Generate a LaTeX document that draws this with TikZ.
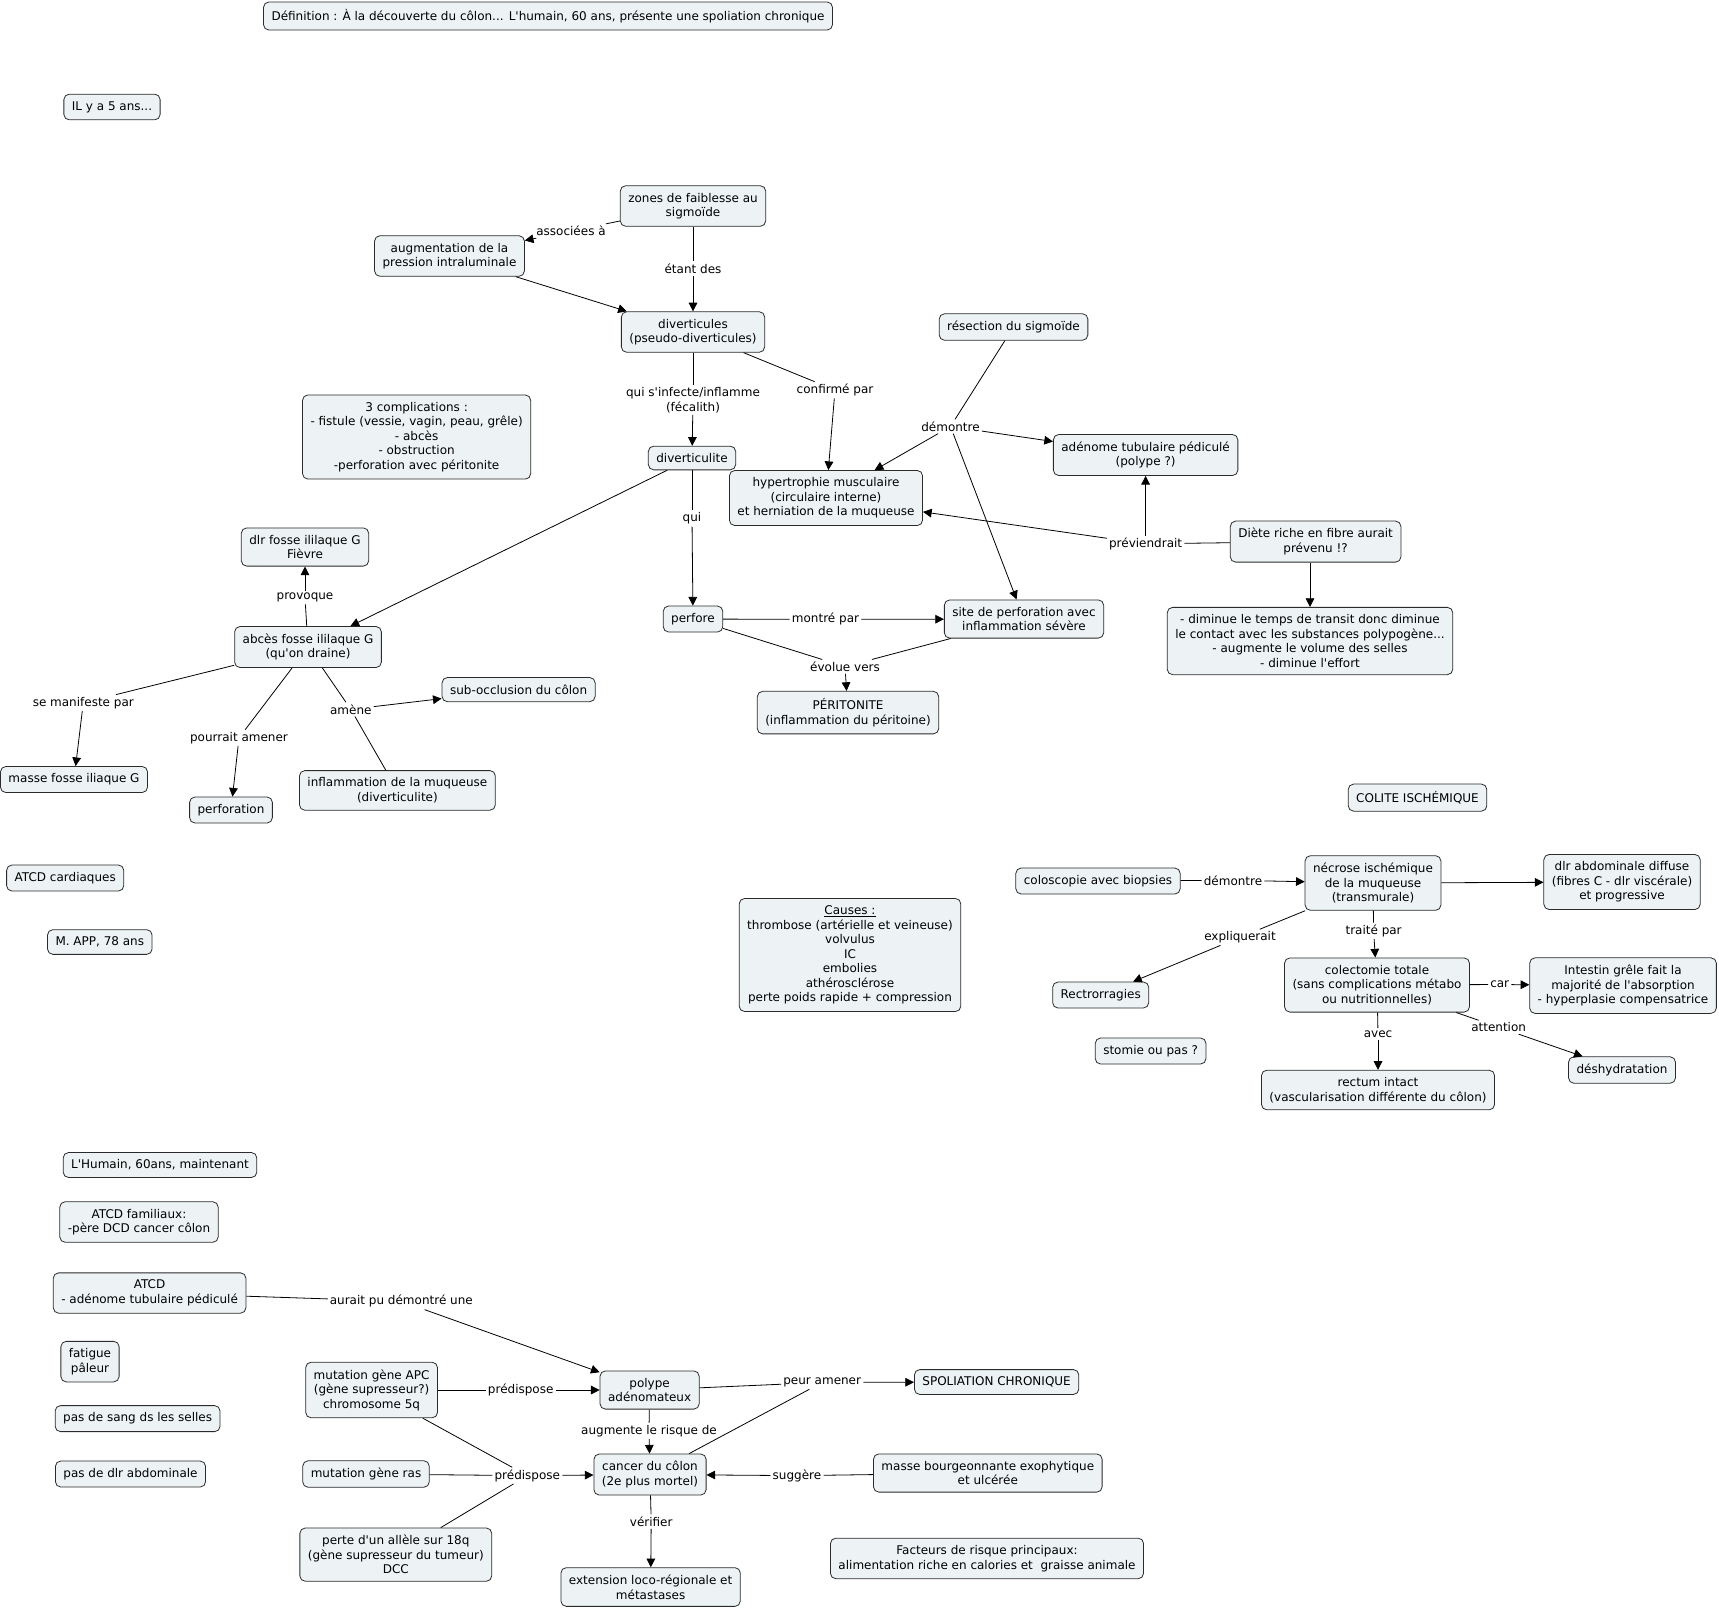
\documentclass[tikz,border=0pt]{standalone}
\usepackage{fontspec}
\newfontfamily\cmapfont{DejaVu Sans}
\usetikzlibrary{arrows.meta}
\definecolor{cmapfill}{HTML}{EDF3F5}
\definecolor{cmapdraw}{HTML}{2B2B2B}

\begin{document}
\begin{tikzpicture}[
    x=0.75pt, y=-0.75pt,
    font=\cmapfont\fontsize{9}{10.9}\selectfont,
    concept/.style={draw=cmapdraw, fill=cmapfill, rounded corners=4pt, align=center,
      inner xsep=6pt, inner ysep=5.4pt, line width=0.6pt},
    phrase/.style={align=center, inner sep=1.5pt},
    link/.style={line width=0.6pt, draw=black},
    arrow/.style={link, -{Triangle[length=6.5pt,width=6.5pt]}}
  ]
    \useasboundingbox (0,0) rectangle (1719,1611);

    \node[concept] (title) at (548,16) {Définition : À la découverte du côlon... L'humain, 60 ans, présente une spoliation chronique};
    \node[concept] (ily5) at (112,107) {IL y a 5 ans...};

    \node[concept] (zones) at (693,206) {zones de faiblesse au\\sigmoïde};
    \node[concept] (augm) at (449.5,256) {augmentation de la\\pression intraluminale};
    \node[concept] (divert) at (693,332) {diverticules\\(pseudo-diverticules)};
    \node[concept] (resection) at (1013.5,327) {résection du sigmoïde};
    \node[concept] (complic) at (416.6,437) {3 complications :\\- fistule (vessie, vagin, peau, grêle)\\- abcès\\- obstruction\\-perforation avec péritonite};
    \node[concept] (diverticulite) at (692,458) {diverticulite};
    \node[concept] (hypertro) at (826,498) {hypertrophie musculaire\\(circulaire interne)\\et herniation de la muqueuse};
    \node[concept] (adenome) at (1145.6,455) {adénome tubulaire pédiculé\\(polype ?)};
    \node[concept] (diete) at (1315.6,541.6) {Diète riche en fibre aurait\\prévenu !?};
    \node[concept] (dlrfosse) at (305,547) {dlr fosse ililaque G\\Fièvre};
    \node[concept] (perfore) at (693,619) {perfore};
    \node[concept] (siteperf) at (1024,619) {site de perforation avec\\inflammation sévère};
    \node[concept] (abces) at (308,647) {abcès fosse ililaque G\\(qu'on draine)};
    \node[concept] (effets) at (1310,641) {- diminue le temps de transit donc diminue\\le contact avec les substances polypogène...\\- augmente le volume des selles\\- diminue l'effort};
    \node[concept] (subocc) at (518.6,689.6) {sub-occlusion du côlon};
    \node[concept] (peritonite) at (848,712.6) {PÉRITONITE\\(inflammation du péritoine)};
    \node[concept] (massefosse) at (74,779.5) {masse fosse iliaque G};
    \node[concept] (perforation) at (231,810) {perforation};
    \node[concept] (inflamuq) at (397.4,790.4) {inflammation de la muqueuse\\(diverticulite)};

    \node[concept] (colite) at (1417.5,797.6) {COLITE ISCHÉMIQUE};
    \node[concept] (atcdcard) at (65.2,878) {ATCD cardiaques};
    \node[concept] (colosco) at (1098,881) {coloscopie avec biopsies};
    \node[concept] (necrose) at (1373,883) {nécrose ischémique\\de la muqueuse\\(transmurale)};
    \node[concept] (dlrabdo) at (1622,882) {dlr abdominale diffuse\\(fibres C - dlr viscérale)\\et progressive};
    \node[concept] (causes) at (850,955) {\underline{Causes :}\\thrombose (artérielle et veineuse)\\volvulus\\IC\\embolies\\athérosclérose\\perte poids rapide + compression};
    \node[concept] (mapp) at (99.8,942) {M. APP, 78 ans};
    \node[concept] (colectomie) at (1377,985) {colectomie totale\\(sans complications métabo\\ou nutritionnelles)};
    \node[concept] (intestin) at (1623,985.6) {Intestin grêle fait la\\majorité de l'absorption\\- hyperplasie compensatrice};
    \node[concept] (rectro) at (1100.7,995) {Rectrorragies};
    \node[concept] (stomie) at (1150.6,1051) {stomie ou pas ?};
    \node[concept] (deshyd) at (1622,1070) {déshydratation};
    \node[concept] (rectum) at (1378,1090) {rectum intact\\(vascularisation différente du côlon)};

    \node[concept] (humain) at (160,1165) {L'Humain, 60ans, maintenant};
    \node[concept] (atcdfam) at (139,1222) {ATCD familiaux:\\-père DCD cancer côlon};
    \node[concept] (atcdadeno) at (149.6,1293) {ATCD\\- adénome tubulaire pédiculé};
    \node[concept] (fatigue) at (90,1361.6) {fatigue\\pâleur};
    \node[concept] (apc) at (371.6,1390) {mutation gène APC\\(gène supresseur?)\\chromosome 5q};
    \node[concept] (polype) at (649.6,1390) {polype\\adénomateux};
    \node[concept] (spoliation) at (996.6,1382) {SPOLIATION CHRONIQUE};
    \node[concept] (sang) at (137.6,1418.6) {pas de sang ds les selles};
    \node[concept] (ras) at (366,1474) {mutation gène ras};
    \node[concept] (cancer) at (650,1474.5) {cancer du côlon\\(2e plus mortel)};
    \node[concept] (masseb) at (987.8,1473) {masse bourgeonnante exophytique\\et ulcérée};
    \node[concept] (dlrabs) at (130.5,1474) {pas de dlr abdominale};
    \node[concept] (perte) at (395.8,1554.6) {perte d'un allèle sur 18q\\(gène supresseur du tumeur)\\DCC};
    \node[concept] (facteurs) at (987,1558.4) {Facteurs de risque principaux:\\alimentation riche en calories et~~graisse animale};
    \node[concept] (extension) at (650.6,1587) {extension loco-régionale et\\métastases};

    \node[phrase] (lassoc) at (571,231) {associées à};
    \node[phrase] (letant) at (693,268.6) {étant des};
    \node[phrase] (linfecte) at (693,400) {qui s'infecte/inflamme\\(fécalith)};
    \node[phrase] (lconfirme) at (835,390) {confirmé par};
    \node[phrase] (ldemontre) at (950.5,426.5) {démontre};
    \node[phrase] (lqui) at (692,518.5) {qui};
    \node[phrase] (lprevient) at (1145.6,543.8) {préviendrait};
    \node[phrase] (lprovoque) at (305,597.5) {provoque};
    \node[phrase] (lmontre) at (825.5,619.4) {montré par};
    \node[phrase] (levolue) at (845,666.6) {évolue vers};
    \node[phrase] (lmanifeste) at (83.3,702.7) {se manifeste par};
    \node[phrase] (lpourrait) at (239,737.8) {pourrait amener};
    \node[phrase] (lamene) at (350.8,709.3) {amène};
    \node[phrase] (ldemontreb) at (1233,880.3) {démontre};
    \node[phrase] (lexpliq) at (1240,937.3) {expliquerait};
    \node[phrase] (ltraite) at (1373.6,930.8) {traité par};
    \node[phrase] (lcar) at (1499.7,984.5) {car};
    \node[phrase] (lavec) at (1378,1033.8) {avec};
    \node[phrase] (lattention) at (1498.6,1027.2) {attention};
    \node[phrase] (laurait) at (401.3,1301.3) {aurait pu démontré une};
    \node[phrase] (lpredisa) at (520.7,1390) {prédispose};
    \node[phrase] (lpeur) at (822.2,1382.4) {peur amener};
    \node[phrase] (laugmente) at (649,1430.7) {augmente le risque de};
    \node[phrase] (lpredisb) at (527.3,1475.6) {prédispose};
    \node[phrase] (lsuggere) at (797,1475.6) {suggère};
    \node[phrase] (lverifier) at (651.2,1521.6) {vérifier};

    \draw[link] (zones) -- (lassoc);
    \draw[arrow] (lassoc) -- (augm);
    \draw[link] (zones) -- (letant);
    \draw[arrow] (letant) -- (divert);
    \draw[arrow] (augm) -- (divert);
    \draw[link] (divert) -- (linfecte);
    \draw[arrow] (linfecte) -- (diverticulite);
    \draw[link] (divert) -- (lconfirme);
    \draw[arrow] (lconfirme) -- (hypertro);
    \draw[link] (resection) -- (ldemontre);
    \draw[arrow] (ldemontre) -- (hypertro);
    \draw[arrow] (ldemontre) -- (adenome);
    \draw[arrow] (ldemontre) -- (siteperf);
    \draw[link] (diverticulite) -- (lqui);
    \draw[arrow] (lqui) -- (perfore);
    \draw[arrow] (diverticulite) -- (abces);
    \draw[link] (diete) -- (lprevient);
    \draw[arrow] (lprevient) -- (hypertro);
    \draw[arrow] (lprevient) -- (adenome);
    \draw[arrow] (effets.north |- diete.south) -- (effets.north);
    \draw[link] (abces) -- (lprovoque);
    \draw[arrow] (lprovoque) -- (dlrfosse);
    \draw[link] (perfore) -- (lmontre);
    \draw[arrow] (lmontre) -- (siteperf);
    \draw[link] (perfore) -- (levolue);
    \draw[link] (siteperf) -- (levolue);
    \draw[arrow] (levolue) -- (peritonite);
    \draw[link] (abces) -- (lmanifeste);
    \draw[arrow] (lmanifeste) -- (massefosse);
    \draw[link] (abces) -- (lpourrait);
    \draw[arrow] (lpourrait) -- (perforation);
    \draw[link] (abces) -- (lamene);
    \draw[link] (inflamuq) -- (lamene);
    \draw[arrow] (lamene) -- (subocc);

    \draw[link] (colosco) -- (ldemontreb);
    \draw[arrow] (ldemontreb) -- (necrose);
    \draw[arrow] (necrose) -- (dlrabdo);
    \draw[link] (necrose) -- (lexpliq);
    \draw[arrow] (lexpliq) -- (rectro);
    \draw[link] (necrose) -- (ltraite);
    \draw[arrow] (ltraite) -- (colectomie);
    \draw[link] (colectomie) -- (lcar);
    \draw[arrow] (lcar) -- (intestin);
    \draw[link] (colectomie) -- (lavec);
    \draw[arrow] (lavec) -- (rectum);
    \draw[link] (colectomie) -- (lattention);
    \draw[arrow] (lattention) -- (deshyd);

    \draw[link] (atcdadeno) -- (laurait);
    \draw[arrow] (laurait) -- (polype);
    \draw[link] (apc) -- (lpredisa);
    \draw[arrow] (lpredisa) -- (polype);
    \draw[link] (polype) -- (lpeur);
    \draw[link] (cancer) -- (lpeur);
    \draw[arrow] (lpeur) -- (spoliation);
    \draw[link] (polype) -- (laugmente);
    \draw[arrow] (laugmente) -- (cancer);
    \draw[link] (apc) -- (lpredisb);
    \draw[link] (ras) -- (lpredisb);
    \draw[link] (perte) -- (lpredisb);
    \draw[arrow] (lpredisb) -- (cancer);
    \draw[link] (masseb) -- (lsuggere);
    \draw[arrow] (lsuggere) -- (cancer);
    \draw[link] (cancer) -- (lverifier);
    \draw[arrow] (lverifier) -- (extension);
\end{tikzpicture}
\end{document}
